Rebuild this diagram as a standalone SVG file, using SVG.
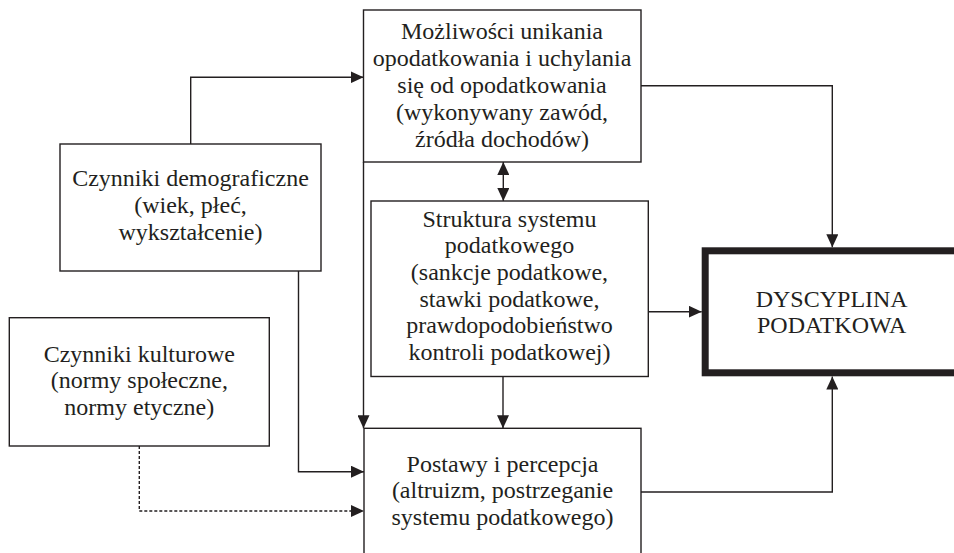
<svg xmlns="http://www.w3.org/2000/svg" width="954" height="553" viewBox="0 0 954 553">
<defs>
<marker id="arr" markerUnits="userSpaceOnUse" markerWidth="13" markerHeight="12" refX="13" refY="6" orient="auto-start-reverse" viewBox="0 0 13 12">
<path d="M0,0 L13,6 L0,12 z" fill="#231f20"/>
</marker>
<style>
.box{fill:#fff;stroke:#231f20;stroke-width:1.4}
.thick{fill:#fff;stroke:#231f20;stroke-width:7}
.t{font-family:"Liberation Serif","Times New Roman",serif;font-size:24px;fill:#231f20;text-anchor:middle}
.c{fill:none;stroke:#231f20;stroke-width:1.4}
.a{marker-end:url(#arr)}
.dot{stroke-dasharray:3 2}
</style>
</defs>
<rect width="954" height="553" fill="#fff"/>
<g id="connectors">
<path class="c a" d="M190.7,144 V77.3 H363.5"/>
<path class="c a" d="M641,85.7 H832.3 V247.3"/>
<path class="c a" d="M503.3,162 V201" style="marker-start:url(#arr)"/>
<path class="c a" d="M363.5,162 V428.3"/>
<path class="c a" d="M503,376.5 V428.3"/>
<path class="c a" d="M648.3,311.7 H701.7"/>
<path class="c a" d="M298.5,271 V471.7 H364"/>
<path class="c a dot" d="M139.3,446 V511 H364"/>
<path class="c a" d="M641,492 H832.3 V376.5"/>
</g>
<g id="n-mozliwosci">
<rect class="box" x="363.5" y="10" width="277.5" height="152"/>
<text class="t" x="502" y="38.5">Możliwości unikania</text>
<text class="t" x="502" y="65.5">opodatkowania i uchylania</text>
<text class="t" x="502" y="92.5">się od opodatkowania</text>
<text class="t" x="502" y="119.5">(wykonywany zawód,</text>
<text class="t" x="502" y="146.5">źródła dochodów)</text>
</g>
<g id="n-struktura">
<rect class="box" x="371" y="201" width="277.3" height="175.5"/>
<text class="t" x="509.5" y="226.7">Struktura systemu</text>
<text class="t" x="509.5" y="253.3">podatkowego</text>
<text class="t" x="509.5" y="280">(sankcje podatkowe,</text>
<text class="t" x="509.5" y="306.7">stawki podatkowe,</text>
<text class="t" x="509.5" y="333.3">prawdopodobieństwo</text>
<text class="t" x="509.5" y="360">kontroli podatkowej)</text>
</g>
<g id="n-demograficzne">
<rect class="box" x="60" y="144" width="261" height="127"/>
<text class="t" x="190.5" y="186">Czynniki demograficzne</text>
<text class="t" x="190.5" y="213">(wiek, płeć,</text>
<text class="t" x="190.5" y="240">wykształcenie)</text>
</g>
<g id="n-kulturowe">
<rect class="box" x="9.3" y="317.7" width="260" height="128.3"/>
<text class="t" x="139.3" y="361.7">Czynniki kulturowe</text>
<text class="t" x="139.3" y="388.3">(normy społeczne,</text>
<text class="t" x="139.3" y="415">normy etyczne)</text>
</g>
<g id="n-postawy">
<rect class="box" x="364" y="428.3" width="277" height="140"/>
<text class="t" x="502.5" y="471.7">Postawy i percepcja</text>
<text class="t" x="502.5" y="498.3">(altruizm, postrzeganie</text>
<text class="t" x="502.5" y="525">systemu podatkowego)</text>
</g>
<g id="n-dyscyplina">
<rect class="thick" x="705.2" y="250.8" width="253" height="122"/>
<text class="t" x="831.7" y="306.7">DYSCYPLINA</text>
<text class="t" x="831.7" y="332.7">PODATKOWA</text>
</g>
</svg>
